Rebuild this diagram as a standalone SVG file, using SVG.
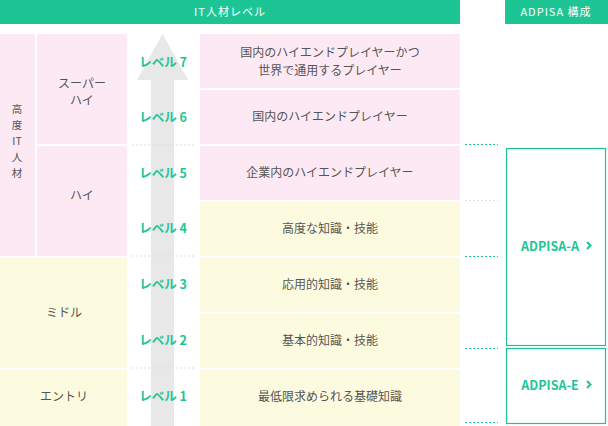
<svg xmlns="http://www.w3.org/2000/svg" width="608" height="426" viewBox="0 0 608 426">
<style>
.t{font-family:"Noto Sans CJK JP","Noto Sans",sans-serif;font-size:12px;fill:#555;text-anchor:middle}
.v{font-family:"Noto Sans CJK JP","Noto Sans",sans-serif;font-size:10.5px;fill:#555;text-anchor:middle}
.h{font-family:"Noto Sans CJK JP","Noto Sans",sans-serif;font-size:11px;fill:#fff;text-anchor:middle;letter-spacing:1px}
.l{font-family:"Noto Sans CJK JP","Noto Sans",sans-serif;font-size:12.5px;font-weight:bold;fill:#1dc594;text-anchor:middle}
.pk{fill:#fde9f3}.yw{fill:#fdfbdf}
.gd{stroke:#ddd;stroke-dasharray:2 2;stroke-width:1}
.gr{stroke:#1dc594;stroke-dasharray:2 2;stroke-width:1}
.bx{fill:#fff;stroke:#1dc594;stroke-width:1.2}
</style>
<g id="header">
<rect x="0" y="0" width="460" height="24" fill="#1dc594"/>
<text class="h" x="230" y="16">IT人材レベル</text>
<rect x="505" y="0" width="103" height="24" fill="#1dc594"/>
<text class="h" x="556" y="16">ADPISA 構成</text>
</g>
<g id="arrow"><rect x="151" y="70" width="23" height="356" fill="#e8e8e8"/><polygon points="162.5,34 188,80 137,80" fill="#e8e8e8"/></g>
<g id="left">
<rect class="pk" x="0" y="34" width="35" height="222"/>
<text class="v" x="17" y="113">高</text><text class="v" x="17" y="129">度</text><text class="v" x="17" y="145">IT</text><text class="v" x="17" y="161">人</text><text class="v" x="17" y="177">材</text>
<rect class="pk" x="37" y="34" width="90" height="110"/>
<text class="t" x="82" y="88">スーパー</text><text class="t" x="82" y="105">ハイ</text>
<rect class="pk" x="37" y="146" width="90" height="110"/>
<text class="t" x="82" y="200">ハイ</text>
<rect class="yw" x="0" y="258" width="127" height="110"/>
<text class="t" x="64" y="317">ミドル</text>
<rect class="yw" x="0" y="370" width="127" height="56"/>
<text class="t" x="64" y="401">エントリ</text>
</g>
<g id="levels">
<text class="l" x="163" y="67">レベル 7</text>
<text class="l" x="163" y="122">レベル 6</text>
<text class="l" x="163" y="178">レベル 5</text>
<text class="l" x="163" y="233">レベル 4</text>
<text class="l" x="163" y="289">レベル 3</text>
<text class="l" x="163" y="345">レベル 2</text>
<text class="l" x="163" y="401">レベル 1</text>
</g>
<g id="desc">
<rect class="pk" x="200" y="34" width="260" height="54"/>
<text class="t" x="330" y="57">国内のハイエンドプレイヤーかつ</text><text class="t" x="330" y="75">世界で通用するプレイヤー</text>
<rect class="pk" x="200" y="90" width="260" height="54"/>
<text class="t" x="330" y="121">国内のハイエンドプレイヤー</text>
<rect class="pk" x="200" y="146" width="260" height="54"/>
<text class="t" x="330" y="177">企業内のハイエンドプレイヤー</text>
<rect class="yw" x="200" y="202" width="260" height="54"/>
<text class="t" x="330" y="233">高度な知識・技能</text>
<rect class="yw" x="200" y="258" width="260" height="54"/>
<text class="t" x="330" y="289">応用的知識・技能</text>
<rect class="yw" x="200" y="314" width="260" height="54"/>
<text class="t" x="330" y="345">基本的知識・技能</text>
<rect class="yw" x="200" y="370" width="260" height="56"/>
<text class="t" x="330" y="401">最低限求められる基礎知識</text>
</g>
<g id="adpisa-a"><rect class="bx" x="506.5" y="148.5" width="99" height="197"/>
<text class="l" x="550" y="251">ADPISA-A</text><path d="M587,242 l3.5,3.5 l-3.5,3.5" fill="none" stroke="#1dc594" stroke-width="2"/></g>
<g id="adpisa-e"><rect class="bx" x="506.5" y="348.5" width="99" height="75"/>
<text class="l" x="550" y="390">ADPISA-E</text><path d="M587,381 l3.5,3.5 l-3.5,3.5" fill="none" stroke="#1dc594" stroke-width="2"/></g>
<g id="connectors">
<line class="gd" x1="132" y1="145" x2="194" y2="145"/>
<line class="gd" x1="132" y1="256" x2="194" y2="256"/>
<line class="gd" x1="132" y1="368" x2="194" y2="368"/>
<line class="gr" x1="465" y1="144.5" x2="498" y2="144.5"/>
<line class="gd" x1="465" y1="200.5" x2="498" y2="200.5"/>
<line class="gr" x1="465" y1="256.5" x2="498" y2="256.5"/>
<line class="gr" x1="465" y1="348.5" x2="498" y2="348.5"/>
<line class="gr" x1="465" y1="422.5" x2="498" y2="422.5"/>
</g>
</svg>
